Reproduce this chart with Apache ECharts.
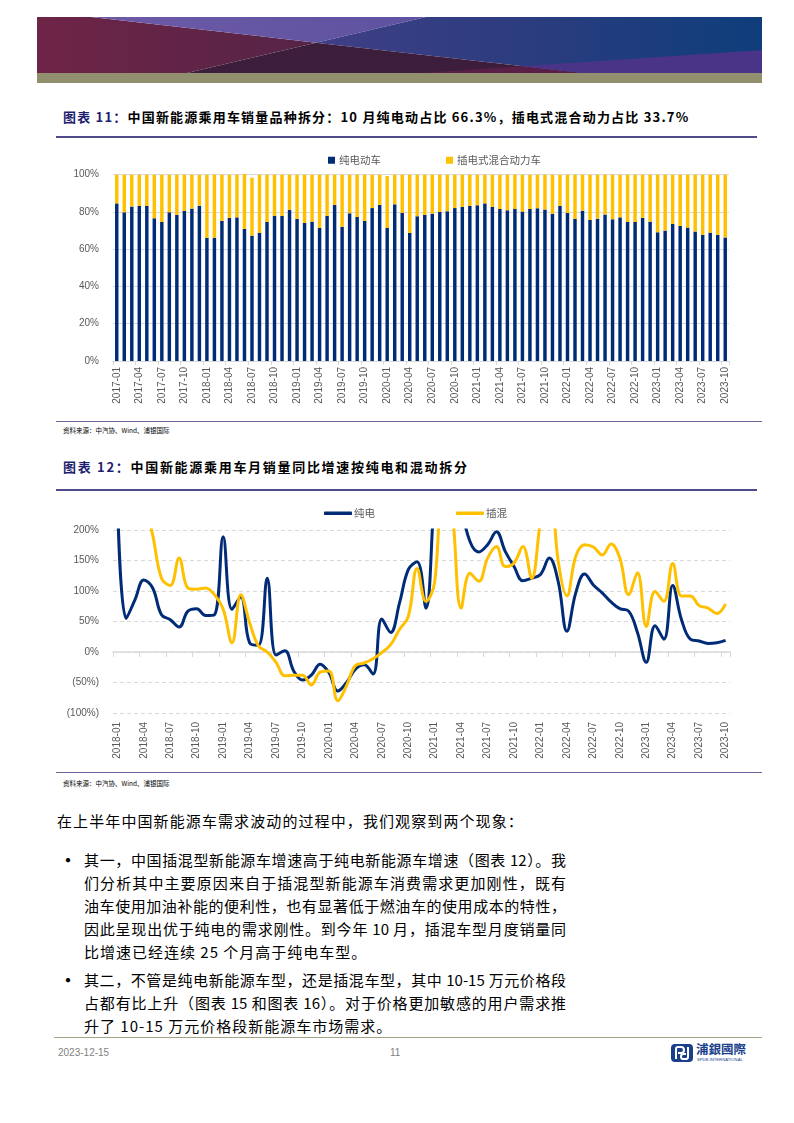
<!DOCTYPE html>
<html>
<head>
<meta charset="utf-8">
<script src="https://cdn.jsdelivr.net/npm/echarts@6/dist/echarts.min.js"></script>
<style>
  html, body { margin:0; padding:0; background:#fff; }
  #page { position:relative; width:794px; height:1123px; overflow:hidden; background:#fff;
          font-family:"Noto Sans CJK SC", "Noto Sans", sans-serif; }
  .abs { position:absolute; }
  .title { font-size:13px; font-weight:bold; color:#000; letter-spacing:1.2px; white-space:nowrap; line-height:18px; }
  .src { font-size:6.5px; color:#000; white-space:nowrap; line-height:10px; }
  .rule { height:1.5px; background:#4E4A8C; }
  .body { font-size:15px; color:#000; line-height:20px; white-space:nowrap; letter-spacing:1px; }
  .just { text-align:justify; text-align-last:justify; white-space:nowrap; width:482px; letter-spacing:0; }
  .bullet { font-size:20px; line-height:20px; }
  #chart { position:absolute; left:0; top:0; width:794px; height:1123px; }
</style>
</head>
<body>
<div id="page">
  <svg class="abs" style="left:37px;top:17px" width="725" height="66" viewBox="0 0 725 66">
    <defs>
      <linearGradient id="gl" x1="0" y1="0" x2="1" y2="0">
        <stop offset="0" stop-color="#6E2446"/><stop offset="1" stop-color="#552447"/>
      </linearGradient>
      <linearGradient id="gt" x1="0" y1="0" x2="1" y2="0">
        <stop offset="0" stop-color="#6D5AA6"/><stop offset="1" stop-color="#5E52A0"/>
      </linearGradient>
      <linearGradient id="gr" x1="0" y1="0" x2="1" y2="0">
        <stop offset="0" stop-color="#3F3F86"/><stop offset="0.5" stop-color="#2A3C7E"/><stop offset="1" stop-color="#0E3E7B"/>
      </linearGradient>
    </defs>
    <polygon points="0,0 54,0 279,25.7 150,56 0,56" fill="url(#gl)"/>
    <polygon points="54,0 389,0 279,25.7" fill="url(#gt)"/>
    <polygon points="389,0 725,0 725,56 545,56 279,25.7" fill="url(#gr)" />
    <polygon points="150,56 279,25.7 545,56" fill="#3D1D3C"/>
    <polygon points="384,56 485,49.2 545,56" fill="#5A1F46"/>
    <polygon points="485,49.2 725,33 725,56 545,56" fill="#4A3488"/>
    <rect x="0" y="56" width="725" height="10" fill="#928F6F"/>
  </svg>

  <div class="abs title" style="left:63px;top:108px;"><span style="color:#1F1F70">图表 11：</span>中国新能源乘用车销量品种拆分：10 月纯电动占比 66.3%，插电式混合动力占比 33.7%</div>
  <div class="abs rule" style="left:56px;top:136px;width:701px;"></div>

  <div class="abs rule" style="left:56px;top:421px;width:706px;background:#6A67A0;height:1px"></div>
  <div class="abs src" style="left:63px;top:425px;">资料来源：中汽协、Wind、浦银国际</div>

  <div class="abs title" style="left:63px;top:458px;letter-spacing:1.7px"><span style="color:#1F1F70">图表 12：</span>中国新能源乘用车月销量同比增速按纯电和混动拆分</div>
  <div class="abs rule" style="left:56px;top:489px;width:701px;"></div>

  <div class="abs rule" style="left:56px;top:772px;width:706px;background:#6A67A0;height:1px"></div>
  <div class="abs src" style="left:63px;top:778px;">资料来源：中汽协、Wind、浦银国际</div>

  <div class="abs body" style="left:57px;top:811px;letter-spacing:1.1px">在上半年中国新能源车需求波动的过程中，我们观察到两个现象：</div>

  <div class="abs body bullet" style="left:58px;top:850px;">•</div>
  <div class="abs body just" style="left:84px;top:850px;">其一，中国插混型新能源车增速高于纯电新能源车增速（图表 12）。我</div>
  <div class="abs body just" style="left:84px;top:873px;">们分析其中主要原因来自于插混型新能源车消费需求更加刚性，既有</div>
  <div class="abs body just" style="left:84px;top:896px;">油车使用加油补能的便利性，也有显著低于燃油车的使用成本的特性，</div>
  <div class="abs body just" style="left:84px;top:919px;">因此呈现出优于纯电的需求刚性。到今年 10 月，插混车型月度销量同</div>
  <div class="abs body" style="left:84px;top:942px;">比增速已经连续 25 个月高于纯电车型。</div>

  <div class="abs body bullet" style="left:58px;top:970px;">•</div>
  <div class="abs body just" style="left:84px;top:970px;">其二，不管是纯电新能源车型，还是插混车型，其中 10-15 万元价格段</div>
  <div class="abs body just" style="left:84px;top:993px;">占都有比上升（图表 15 和图表 16）。对于价格更加敏感的用户需求推</div>
  <div class="abs body" style="left:84px;top:1016px;">升了 10-15 万元价格段新能源车市场需求。</div>

  <div class="abs" style="left:54px;top:1037px;width:708px;height:1px;background:#A5A28A"></div>
  <div class="abs" style="left:58px;top:1047px;font-family:'Liberation Sans',Arial,sans-serif;font-size:10px;color:#7F7F7F">2023-12-15</div>
  <div class="abs" style="left:390px;top:1047px;font-family:'Liberation Sans',Arial,sans-serif;font-size:10px;color:#7F7F7F">11</div>

  <svg class="abs" style="left:670px;top:1041px" width="90" height="24" viewBox="0 0 90 24">
    <rect x="1" y="3" width="22" height="18" rx="4" fill="#1B3F8C"/>
    <path d="M6 18 V8 Q6 6 8 6 H11 Q14 6 14 9 Q14 12 11 12 H8" stroke="#fff" stroke-width="2" fill="none"/>
    <path d="M18 6 V16 Q18 18 16 18 H13 Q11 18 11 15.5 Q11 13 13 13 H16" stroke="#fff" stroke-width="2" fill="none"/>
    <text x="26" y="13" font-size="12.5" font-weight="bold" fill="#1B3F8C" font-family="Noto Sans CJK TC, Noto Sans CJK SC">浦銀國際</text>
    <text x="27" y="20" font-size="4.2" fill="#1B3F8C" font-family="Liberation Sans, Arial">SPDB INTERNATIONAL</text>
  </svg>

  <div id="chart"></div>
</div>

<script>
// ---------- Data ----------
function buildMonths(y, m, n) {
  const out = [];
  for (let k = 0; k < n; k++) {
    const mm = m - 1 + k;
    const yy = y + Math.floor(mm / 12);
    const mo = (mm % 12) + 1;
    out.push(yy + '-' + (mo < 10 ? '0' + mo : '' + mo));
  }
  return out;
}
const months1 = buildMonths(2017, 1, 82);   // 2017-01 .. 2023-10
const months2 = buildMonths(2018, 1, 70);   // 2018-01 .. 2023-10

// Chart 11: share of sales (%)
const bevShare = [
  84.6, 79.8, 82.9, 83.2, 83.2, 76.6, 74.6, 79.8, 78.4, 80.5, 81.8, 83.4,
  66.1, 66.1, 75.2, 76.8, 77.1, 70.9, 67.3, 68.8, 74.6, 77.9, 77.9, 81.1,
  76.3, 74.1, 74.8, 71.4, 77.9, 83.8, 72.0, 79.3, 77.3, 75.2, 82.1, 83.8,
  71.4, 84.1, 79.5, 68.8, 77.7, 78.4, 79.1, 80.0, 80.4, 82.1, 82.7, 83.2,
  83.6, 84.6, 82.7, 81.6, 80.9, 81.6, 80.2, 81.6, 82.0, 81.3, 79.1, 83.2,
  79.5, 76.3, 80.7, 75.7, 76.4, 78.6, 76.1, 77.1, 74.6, 74.6, 76.8, 74.8,
  69.1, 70.0, 73.6, 72.5, 71.6, 69.5, 67.7, 68.9, 67.7, 66.3
];
const phevShare = [
  15.4, 20.2, 17.1, 16.8, 16.8, 23.4, 25.4, 20.2, 21.6, 19.5, 18.2, 16.6,
  33.9, 33.9, 24.8, 23.2, 22.9, 29.5, 31.1, 31.2, 25.4, 22.1, 22.1, 18.9,
  23.7, 25.9, 25.2, 28.6, 22.1, 16.2, 28.0, 20.7, 22.7, 24.8, 17.9, 16.2,
  27.9, 15.9, 20.5, 31.2, 22.3, 21.6, 20.9, 20.0, 19.6, 17.9, 17.3, 16.8,
  16.4, 15.4, 17.3, 18.4, 19.1, 18.4, 19.8, 18.4, 18.0, 18.7, 20.9, 16.8,
  20.5, 23.7, 19.3, 24.3, 23.6, 21.4, 23.9, 22.9, 25.4, 25.4, 23.2, 25.2,
  30.9, 30.0, 26.4, 27.5, 28.4, 30.5, 32.3, 31.1, 32.3, 33.7
];

// Chart 12: YoY growth (%)
const bevYoY = [
  260, 55, 86, 118, 105, 61, 53, 41, 67, 71, 60, 61,
  189, 70, 90, 15, 11, 121, -5, 2, -31, -46, -38, -20,
  -34, -64, -50, -28, -21, -36, 54, 32, 80, 135, 148, 72,
  260, 380, 320, 240, 181, 164, 176, 197, 165, 140, 117, 121,
  127, 154, 116, 34, 97, 128, 110, 97, 82, 71, 67, 32,
  -17, 43, 21, 109, 53, 21, 18, 14, 15, 19
];
const phevYoY = [
  300, 350, 300, 250, 192, 121, 109, 154, 105, 103, 105, 94,
  70, 15, 94, 48, 10, 0, -17, -39, -38, -38, -54, -33,
  -31, -80, -55, -22, -18, -11, -1, 12, 37, 58, 137, 83,
  115, 320, 230, 72, 129, 116, 154, 173, 140, 146, 173, 121,
  215, 290, 150, 92, 157, 176, 172, 159, 177, 154, 94, 130,
  42, 99, 83, 145, 92, 92, 76, 72, 63, 79
];
const yTicks1 = [0, 20, 40, 60, 80, 100];
const yTicks2 = [-100, -50, 0, 50, 100, 150, 200];

// ---------- Chart ----------
const NAVY = '#002C77', GOLD = '#FFC000', GRID = '#D9D9D9', LBL = '#595959';
const axisFont = 'Liberation Sans, Arial, sans-serif';
const cjkFont = 'Noto Sans CJK SC, sans-serif';

const chart = echarts.init(document.getElementById('chart'), null, { renderer: 'canvas' });
chart.setOption({
  animation: false,
  backgroundColor: 'transparent',
  grid: [
    { left: 113, top: 174.7, width: 616, height: 186.3, containLabel: false },
    { left: 113, top: 530, width: 617, height: 183, containLabel: false }
  ],
  legend: [
    { data: ['纯电动车'], left: 323, top: 150, icon: 'rect', itemWidth: 7, itemHeight: 7, itemGap: 4,
      textStyle: { fontSize: 10.5, color: LBL, fontFamily: cjkFont, padding: [0, 0, 0, -1] } },
    { data: ['插电式混合动力车'], left: 441, top: 150, icon: 'rect', itemWidth: 7, itemHeight: 7,
      textStyle: { fontSize: 10.5, color: LBL, fontFamily: cjkFont, padding: [0, 0, 0, -1] } },
    { data: ['纯电'], left: 319, top: 503, icon: 'roundRect', itemWidth: 28, itemHeight: 3.5,
      textStyle: { fontSize: 10.5, color: LBL, fontFamily: cjkFont, padding: [0, 0, 0, -3] } },
    { data: ['插混'], left: 451, top: 503, icon: 'roundRect', itemWidth: 28, itemHeight: 3.5,
      textStyle: { fontSize: 10.5, color: LBL, fontFamily: cjkFont, padding: [0, 0, 0, -3] } }
  ],
  xAxis: [
    { gridIndex: 0, type: 'category', data: months1, boundaryGap: true,
      axisLine: { lineStyle: { color: GRID, width: 1 } },
      axisTick: { show: true, interval: 2, length: 4, lineStyle: { color: GRID } },
      axisLabel: { interval: 2, rotate: 90, margin: 6, fontSize: 10, color: LBL, fontFamily: axisFont } },
    { gridIndex: 1, type: 'category', data: months2, boundaryGap: true, position: 'bottom',
      axisLine: { show: false, onZero: false }, axisTick: { show: false },
      axisLabel: { interval: 2, rotate: 90, margin: 9, fontSize: 10, color: LBL, fontFamily: axisFont } },
    { gridIndex: 1, type: 'category', data: months2, boundaryGap: true, position: 'bottom',
      axisLine: { show: true, onZero: true, lineStyle: { color: GRID, width: 1.5 } },
      axisTick: { show: true, interval: 2, length: 5, lineStyle: { color: GRID } },
      axisLabel: { show: false } }
  ],
  yAxis: [
    { gridIndex: 0, type: 'value', min: yTicks1[0], max: yTicks1[yTicks1.length - 1], interval: 20,
      axisLine: { show: false }, axisTick: { show: false },
      splitLine: { lineStyle: { color: GRID, width: 1 } },
      axisLabel: { formatter: v => v + '%', margin: 14, fontSize: 10, color: LBL, fontFamily: axisFont } },
    { gridIndex: 1, type: 'value', min: yTicks2[0], max: yTicks2[yTicks2.length - 1], interval: 50,
      axisLine: { show: false }, axisTick: { show: false },
      splitLine: { lineStyle: { color: GRID, width: 1, type: [4, 3] } },
      axisLabel: { formatter: v => v < 0 ? '(' + (-v) + '%)' : v + '%', margin: 14, fontSize: 10, color: LBL, fontFamily: axisFont } }
  ],
  series: [
    { name: '纯电动车', type: 'bar', xAxisIndex: 0, yAxisIndex: 0, stack: 'share', data: bevShare,
      barWidth: '46%', clip: false, itemStyle: { color: NAVY } },
    { name: '插电式混合动力车', type: 'bar', xAxisIndex: 0, yAxisIndex: 0, stack: 'share', data: phevShare,
      barWidth: '46%', clip: false, itemStyle: { color: GOLD } },
    { name: '纯电', type: 'line', xAxisIndex: 1, yAxisIndex: 1, data: bevYoY, smooth: 0.4,
      showSymbol: false, symbol: 'none', clip: true, lineStyle: { color: NAVY, width: 3 }, itemStyle: { color: NAVY } },
    { name: '插混', type: 'line', xAxisIndex: 1, yAxisIndex: 1, data: phevYoY, smooth: 0.4,
      showSymbol: false, symbol: 'none', clip: true, lineStyle: { color: GOLD, width: 3 }, itemStyle: { color: GOLD } }
  ]
});
</script>
</body>
</html>
